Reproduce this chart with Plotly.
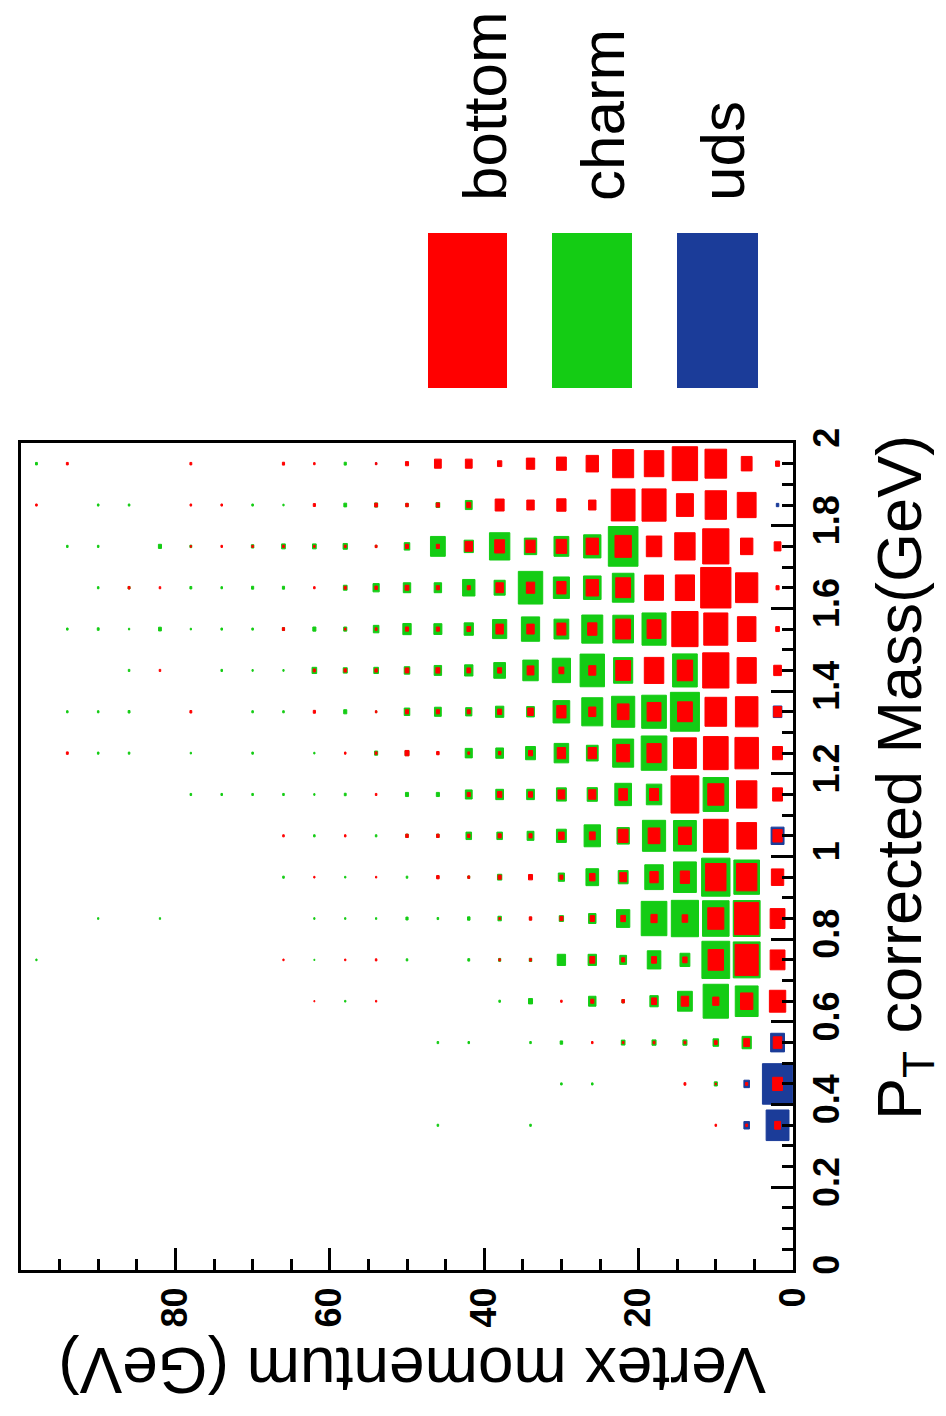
import plotly.graph_objects as go

# ---------------- data ----------------
# bin centres
mass_centres = [0.35, 0.45, 0.55, 0.65, 0.75, 0.85, 0.95, 1.05, 1.15,
                1.25, 1.35, 1.45, 1.55, 1.65, 1.75, 1.85, 1.95]
momentum_centres = [2, 6, 10, 14, 18, 22, 26, 30, 34, 38, 42, 46, 50,
                    54, 58, 62, 66, 70, 74, 78, 82, 86, 90, 94, 98]
MASS_BIN = 0.1
MOMENTUM_BIN = 4.0

# relative bin content (box size, % of a full bin), rows = mass bins (low -> high),
# columns = momentum bins (2 -> 98 GeV)
bottom = [
    [19, 6, 5, 0, 0, 0, 0, 0, 0, 0, 0, 0, 0, 0, 0, 0, 0, 0, 0, 0, 0, 0, 0, 0, 0],
    [32, 7, 4, 6, 0, 0, 0, 0, 0, 0, 0, 0, 0, 0, 0, 0, 0, 0, 0, 0, 0, 0, 0, 0, 0],
    [28, 19, 9, 6, 6, 5, 5, 0, 0, 0, 0, 0, 0, 0, 0, 0, 0, 0, 0, 0, 0, 0, 0, 0, 0],
    [53, 40, 20, 24, 16, 8, 10, 5, 0, 0, 0, 0, 0, 4, 0, 3, 0, 0, 0, 0, 0, 0, 0, 0, 0],
    [48, 75, 50, 14, 16, 10, 16, 0, 6, 5, 0, 0, 0, 5, 4, 0, 4, 0, 0, 0, 0, 0, 0, 0, 0],
    [48, 78, 52, 18, 20, 15, 14, 10, 8, 5, 0, 0, 0, 0, 0, 0, 0, 0, 0, 0, 0, 0, 0, 0, 0],
    [40, 66, 66, 30, 27, 22, 18, 10, 13, 10, 6, 8, 0, 4, 0, 4, 0, 0, 0, 0, 0, 0, 0, 0, 0],
    [30, 64, 80, 42, 38, 32, 19, 18, 10, 10, 8, 8, 8, 0, 5, 0, 5, 0, 0, 0, 0, 0, 0, 0, 0],
    [32, 66, 52, 90, 29, 28, 23, 22, 13, 14, 10, 0, 0, 5, 0, 0, 0, 0, 0, 0, 0, 0, 0, 0, 0],
    [32, 76, 80, 74, 46, 42, 27, 27, 13, 8, 6, 8, 13, 6, 5, 0, 0, 0, 0, 0, 0, 0, 0, 6, 0],
    [25, 73, 70, 48, 45, 38, 23, 30, 18, 13, 10, 10, 10, 5, 0, 7, 0, 0, 0, 6, 0, 0, 0, 0, 0],
    [25, 62, 85, 50, 63, 48, 23, 16, 22, 13, 12, 13, 12, 8, 8, 7, 0, 0, 0, 0, 5, 0, 0, 0, 0],
    [12, 60, 78, 85, 45, 48, 30, 29, 24, 24, 12, 10, 10, 6, 5, 0, 7, 0, 0, 0, 0, 0, 0, 0, 0],
    [10, 72, 98, 62, 61, 48, 40, 30, 27, 24, 10, 10, 12, 8, 7, 5, 0, 0, 0, 0, 5, 6, 0, 0, 0],
    [22, 40, 85, 66, 50, 53, 40, 34, 30, 32, 24, 10, 10, 6, 6, 5, 6, 5, 5, 4, 0, 0, 0, 0, 0],
    [0, 61, 69, 55, 78, 77, 24, 30, 24, 29, 13, 10, 8, 9, 0, 7, 0, 0, 5, 5, 0, 0, 0, 0, 5],
    [13, 35, 70, 82, 63, 68, 40, 32, 27, 14, 22, 22, 10, 5, 0, 5, 7, 0, 0, 6, 0, 0, 0, 6, 0],
]

charm = [
    [0, 0, 0, 0, 0, 0, 0, 0, 5, 0, 0, 5, 0, 0, 0, 0, 0, 0, 0, 0, 0, 0, 0, 0, 0],
    [0, 0, 10, 0, 0, 0, 5, 5, 0, 0, 0, 0, 0, 0, 0, 0, 0, 0, 0, 0, 0, 0, 0, 0, 0],
    [0, 30, 18, 13, 13, 12, 0, 8, 5, 0, 5, 5, 0, 0, 0, 0, 0, 0, 0, 0, 0, 0, 0, 0, 0],
    [0, 74, 82, 48, 27, 8, 24, 0, 13, 5, 0, 0, 0, 0, 4, 0, 0, 0, 0, 0, 0, 0, 0, 0, 0],
    [0, 87, 90, 32, 44, 22, 27, 27, 8, 7, 6, 0, 5, 0, 0, 3, 0, 0, 0, 0, 0, 0, 0, 0, 4],
    [0, 87, 86, 88, 83, 43, 24, 14, 6, 11, 8, 5, 7, 4, 4, 4, 0, 0, 0, 0, 4, 0, 4, 0, 0],
    [0, 83, 92, 74, 60, 32, 41, 20, 0, 14, 6, 6, 5, 0, 4, 0, 5, 0, 0, 0, 0, 0, 0, 0, 0],
    [0, 0, 0, 74, 75, 40, 53, 32, 22, 18, 18, 8, 8, 5, 0, 5, 0, 0, 0, 0, 0, 0, 0, 0, 0],
    [0, 0, 82, 0, 50, 54, 33, 32, 25, 25, 22, 10, 10, 0, 6, 4, 5, 5, 5, 5, 0, 0, 0, 0, 0],
    [0, 0, 0, 0, 83, 68, 38, 47, 32, 25, 23, 5, 12, 10, 0, 4, 0, 5, 0, 4, 0, 5, 5, 0, 0],
    [0, 0, 0, 94, 80, 75, 68, 54, 25, 27, 20, 22, 18, 4, 10, 0, 5, 5, 0, 0, 0, 6, 5, 5, 0],
    [0, 0, 0, 80, 0, 62, 79, 59, 50, 38, 27, 24, 18, 15, 13, 15, 4, 4, 5, 0, 0, 5, 0, 0, 0],
    [0, 0, 0, 0, 78, 67, 68, 48, 59, 46, 30, 26, 27, 18, 10, 10, 7, 5, 5, 4, 9, 4, 6, 5, 0],
    [0, 0, 0, 0, 0, 70, 57, 52, 79, 36, 40, 24, 24, 20, 12, 0, 7, 7, 5, 6, 0, 6, 5, 0, 0],
    [0, 0, 0, 0, 0, 96, 56, 48, 40, 66, 30, 48, 18, 5, 14, 12, 12, 8, 0, 6, 10, 0, 5, 5, 0],
    [0, 0, 0, 0, 0, 0, 0, 0, 0, 0, 22, 12, 8, 10, 9, 0, 4, 5, 0, 0, 0, 5, 5, 0, 0],
    [0, 0, 0, 0, 0, 0, 0, 0, 0, 0, 0, 0, 0, 0, 7, 0, 0, 0, 0, 0, 0, 0, 0, 0, 6],
]

uds = [
    [74, 18, 0, 0, 0, 0, 0, 0, 0, 0, 0, 0, 0, 0, 0, 0, 0, 0, 0, 0, 0, 0, 0, 0, 0],
    [98, 18, 0, 0, 0, 0, 0, 0, 0, 0, 0, 0, 0, 0, 0, 0, 0, 0, 0, 0, 0, 0, 0, 0, 0],
    [45, 0, 0, 0, 0, 0, 0, 0, 0, 0, 0, 0, 0, 0, 0, 0, 0, 0, 0, 0, 0, 0, 0, 0, 0],
    [0, 0, 0, 0, 0, 0, 0, 0, 0, 0, 0, 0, 0, 0, 0, 0, 0, 0, 0, 0, 0, 0, 0, 0, 0],
    [0, 0, 0, 0, 0, 0, 0, 0, 0, 0, 0, 0, 0, 0, 0, 0, 0, 0, 0, 0, 0, 0, 0, 0, 0],
    [0, 0, 0, 0, 0, 0, 0, 0, 0, 0, 0, 0, 0, 0, 0, 0, 0, 0, 0, 0, 0, 0, 0, 0, 0],
    [0, 0, 0, 0, 0, 0, 0, 0, 0, 0, 0, 5, 0, 0, 0, 0, 0, 0, 0, 0, 0, 0, 0, 0, 0],
    [42, 0, 0, 0, 0, 0, 0, 0, 0, 0, 0, 0, 0, 0, 0, 0, 0, 0, 0, 0, 0, 0, 0, 0, 0],
    [0, 0, 0, 0, 0, 0, 0, 0, 0, 0, 0, 0, 0, 0, 0, 0, 0, 0, 0, 0, 0, 0, 0, 0, 0],
    [0, 0, 0, 0, 0, 0, 0, 0, 0, 0, 0, 0, 0, 0, 0, 0, 0, 0, 0, 0, 0, 0, 0, 0, 0],
    [28, 0, 0, 0, 0, 0, 0, 0, 0, 0, 0, 0, 0, 0, 0, 0, 0, 0, 0, 0, 0, 0, 0, 0, 0],
    [0, 0, 0, 0, 0, 0, 0, 0, 0, 0, 0, 0, 0, 0, 0, 0, 0, 0, 0, 0, 0, 0, 0, 0, 0],
    [0, 0, 0, 0, 0, 0, 0, 0, 0, 0, 0, 0, 0, 0, 0, 0, 0, 0, 0, 0, 0, 0, 0, 0, 0],
    [0, 0, 0, 0, 0, 0, 0, 0, 0, 0, 0, 0, 0, 0, 0, 0, 0, 0, 0, 0, 0, 0, 0, 0, 0],
    [0, 0, 0, 0, 0, 0, 0, 0, 0, 0, 0, 0, 0, 0, 0, 0, 0, 0, 0, 0, 0, 0, 0, 0, 0],
    [8, 0, 0, 0, 0, 0, 0, 0, 0, 0, 0, 0, 0, 0, 0, 0, 0, 0, 0, 0, 0, 0, 0, 0, 0],
    [0, 0, 0, 0, 0, 0, 0, 0, 0, 0, 0, 0, 0, 4, 0, 0, 0, 0, 0, 0, 0, 0, 0, 0, 0],
]

flavour_names = ["uds", "charm", "bottom"]
flavour_colors = ["#1b3c99", "#14cc14", "#ff0000"]
mass_ticks = [0, 0.2, 0.4, 0.6, 0.8, 1, 1.2, 1.4, 1.6, 1.8, 2]
momentum_ticks = [0, 20, 40, 60, 80]

# ---------------- figure ----------------
W, H = 946, 1416
FONT = "Liberation Sans, Arial, Helvetica, sans-serif"

fig = go.Figure()
for name, grid, color in zip(flavour_names, [uds, charm, bottom], flavour_colors):
    xs, ys = [], []
    for j, m in enumerate(mass_centres):
        for i, p in enumerate(momentum_centres):
            f = grid[j][i] / 100.0
            if f <= 0:
                continue
            hx = 0.5 * MOMENTUM_BIN * f
            hy = 0.5 * MASS_BIN * f
            xs += [p - hx, p + hx, p + hx, p - hx, p - hx, None]
            ys += [m - hy, m - hy, m + hy, m + hy, m - hy, None]
    fig.add_trace(go.Scatter(
        x=xs, y=ys, mode="lines", fill="toself", fillcolor=color,
        line=dict(width=1, color=color), name=name,
        hoverinfo="skip", showlegend=False))

axis_common = dict(
    ticks="inside", tickwidth=3, tickcolor="black", showline=True,
    linewidth=3, linecolor="black", mirror=True, showgrid=False,
    zeroline=False, tickangle=-90, automargin=False,
    tickfont=dict(family=FONT, size=36, color="black", weight="bold"),
)

fig.update_layout(
    width=W, height=H,
    margin=dict(l=0, r=0, t=0, b=0),
    paper_bgcolor="white", plot_bgcolor="white",
    showlegend=False,
    xaxis=dict(
        domain=[21 / W, 793 / W], range=[100, 0],
        tickvals=momentum_ticks, ticklen=22,
        minor=dict(dtick=5, tick0=0, ticklen=11, tickwidth=3,
                   ticks="inside", tickcolor="black", showgrid=False),
        **axis_common),
    yaxis=dict(
        domain=[(H - 1270) / H, (H - 443) / H], range=[0, 2],
        side="right", tickvals=mass_ticks, ticklen=22,
        minor=dict(dtick=0.05, tick0=0, ticklen=11, tickwidth=3,
                   ticks="inside", tickcolor="black", showgrid=False),
        **axis_common),
)

# legend (rotated, like the reference)
legend_x = [(428, 507, 484), (552, 632, 602), (677, 758, 722)]
legend_labels = ["bottom", "charm", "uds"]
legend_colors = ["#ff0000", "#14cc14", "#1b3c99"]
for (x0, x1, xt), lab, col in zip(legend_x, legend_labels, legend_colors):
    fig.add_shape(type="rect", xref="paper", yref="paper",
                  x0=x0 / W, x1=x1 / W, y0=1 - 388 / H, y1=1 - 233 / H,
                  fillcolor=col, line=dict(width=0))
    fig.add_annotation(text=lab, xref="paper", yref="paper",
                       x=xt / W, y=1 - 203 / H, xanchor="center", yanchor="bottom",
                       textangle=-90, showarrow=False,
                       font=dict(family=FONT, size=62, color="black"))

# axis titles
fig.add_annotation(text="P<sub>T</sub> corrected Mass(GeV)", xref="paper", yref="paper",
                   x=903 / W, y=1 - 778 / H, xanchor="center", yanchor="middle",
                   textangle=-90, showarrow=False,
                   font=dict(family=FONT, size=63, color="black"))
fig.add_annotation(text="Vertex momentum (GeV)", xref="paper", yref="paper",
                   x=412 / W, y=1 - 1370 / H, xanchor="center", yanchor="middle",
                   textangle=180, showarrow=False,
                   font=dict(family=FONT, size=64, color="black"))

fig.write_html("out.html")
